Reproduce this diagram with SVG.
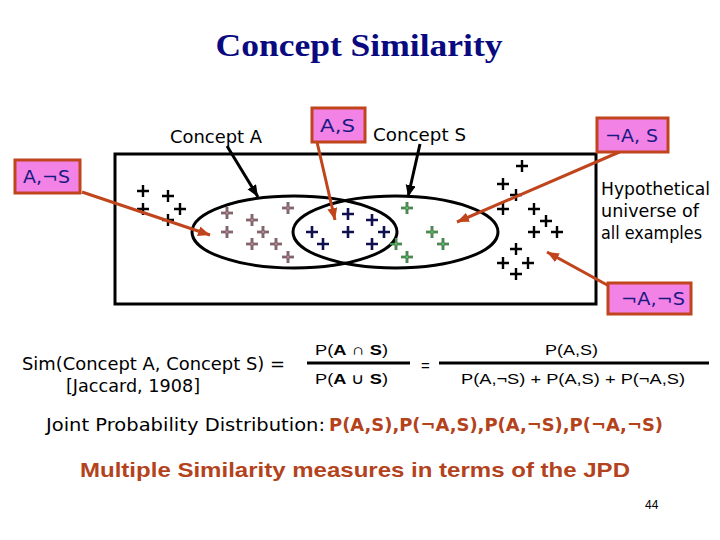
<svg xmlns="http://www.w3.org/2000/svg" width="720" height="540" viewBox="0 0 720 540">
<style>
.comic{font-family:"DejaVu Sans","Liberation Sans",sans-serif;font-size:17px;fill:#000}
.lbl{font-family:"DejaVu Sans","Liberation Sans",sans-serif;font-size:17px;fill:#1a1a84}
.box{fill:#f282e6;stroke:#c0441c;stroke-width:3}
.ba{stroke:#c0441c;stroke-width:3;fill:none;marker-end:url(#hb)}
.ka{stroke:#000;stroke-width:3;fill:none;marker-end:url(#hk)}
.f{font-family:"Liberation Sans",Arial,sans-serif;font-size:15px;fill:#000}
.ell{fill:none;stroke:#000;stroke-width:3}
.pk{stroke:#000;stroke-width:2.4;fill:none}
.pc{stroke-width:2.6;fill:none}
.pi{stroke-width:1;fill:none}
</style>
<defs>
<marker id="hb" markerUnits="userSpaceOnUse" markerWidth="14" markerHeight="12" refX="12" refY="5" orient="auto"><path d="M0,0 L12,5 L0,10 Z" fill="#c0441c"/></marker>
<marker id="hk" markerUnits="userSpaceOnUse" markerWidth="14" markerHeight="12" refX="12" refY="5" orient="auto"><path d="M0,0 L12,5 L0,10 Z" fill="#000"/></marker>
<path id="p" d="M-6,0H6M0,-6V6"/>
</defs>
<rect width="720" height="540" fill="#fff"/>
<text x="359" y="56" text-anchor="middle" font-family="'Liberation Serif','Times New Roman',serif" font-weight="bold" font-size="32" fill="#0a0a80" textLength="287" lengthAdjust="spacingAndGlyphs">Concept Similarity</text>

<g id="universe"><rect x="115" y="154" width="481" height="150" fill="none" stroke="#000" stroke-width="3"/></g>
<g id="ellipseA"><ellipse class="ell" cx="294.5" cy="232" rx="102.5" ry="36"/></g>
<g id="ellipseS"><ellipse class="ell" cx="395.5" cy="232" rx="102.5" ry="36"/></g>

<g id="points-outside" class="pk">
<use href="#p" x="143" y="191"/><use href="#p" x="168" y="196"/><use href="#p" x="180" y="209"/><use href="#p" x="143" y="209"/><use href="#p" x="168" y="220"/>
<use href="#p" x="522" y="166"/><use href="#p" x="503" y="184"/><use href="#p" x="516" y="195"/><use href="#p" x="503" y="209"/><use href="#p" x="534" y="209"/><use href="#p" x="546" y="221"/><use href="#p" x="534" y="232"/><use href="#p" x="557" y="232"/><use href="#p" x="516" y="249"/><use href="#p" x="503" y="263"/><use href="#p" x="528" y="263"/><use href="#p" x="516" y="274"/>
</g>
<g id="points-A">
<g class="pc" stroke="#2e161a"><use href="#p" x="227" y="213"/><use href="#p" x="252" y="220"/><use href="#p" x="263" y="232"/><use href="#p" x="227" y="232"/><use href="#p" x="252" y="244"/><use href="#p" x="276" y="244"/><use href="#p" x="288" y="208"/><use href="#p" x="288" y="257"/></g>
<g class="pi" stroke="#e0b0c0"><use href="#p" x="227" y="213"/><use href="#p" x="252" y="220"/><use href="#p" x="263" y="232"/><use href="#p" x="227" y="232"/><use href="#p" x="252" y="244"/><use href="#p" x="276" y="244"/><use href="#p" x="288" y="208"/><use href="#p" x="288" y="257"/></g>
</g>
<g id="points-AS" class="pc" stroke="#101050">
<use href="#p" x="348" y="214"/><use href="#p" x="372" y="220"/><use href="#p" x="312" y="232"/><use href="#p" x="348" y="232"/><use href="#p" x="384" y="232"/><use href="#p" x="323" y="244"/><use href="#p" x="372" y="244"/>
</g>
<g id="points-S">
<g class="pc" stroke="#0a300f"><use href="#p" x="407" y="208"/><use href="#p" x="432" y="232"/><use href="#p" x="443" y="244"/><use href="#p" x="396" y="244"/><use href="#p" x="407" y="257"/></g>
<g class="pi" stroke="#80e88c"><use href="#p" x="407" y="208"/><use href="#p" x="432" y="232"/><use href="#p" x="443" y="244"/><use href="#p" x="396" y="244"/><use href="#p" x="407" y="257"/></g>
</g>

<g id="connectors">
<line class="ba" x1="82" y1="192" x2="210" y2="235"/>
<line class="ba" x1="317" y1="142" x2="335" y2="220"/>
<line class="ba" x1="624" y1="150" x2="457" y2="222"/>
<line class="ba" x1="609" y1="286" x2="547" y2="252"/>
<line class="ka" x1="227" y1="146" x2="258" y2="197"/>
<line class="ka" x1="420" y1="144" x2="408" y2="197"/>
</g>

<g id="label-conceptA"><text class="comic" x="170" y="143" textLength="92" lengthAdjust="spacingAndGlyphs">Concept A</text></g>
<g id="label-conceptS"><text class="comic" x="373" y="141" textLength="93" lengthAdjust="spacingAndGlyphs">Concept S</text></g>
<g id="box-AS"><rect class="box" x="312" y="108" width="53" height="34"/><text class="lbl" x="320" y="132" textLength="35" lengthAdjust="spacingAndGlyphs">A,S</text></g>
<g id="box-nAS"><rect class="box" x="597" y="118" width="71" height="34"/><text class="lbl" x="605" y="142" textLength="53" lengthAdjust="spacingAndGlyphs">¬A, S</text></g>
<g id="box-AnS"><rect class="box" x="15" y="160" width="65" height="33"/><text class="lbl" x="23" y="183" textLength="47" lengthAdjust="spacingAndGlyphs">A,¬S</text></g>
<g id="box-nAnS"><rect class="box" x="608" y="283" width="83" height="31"/><text class="lbl" x="621" y="305" textLength="64" lengthAdjust="spacingAndGlyphs">¬A,¬S</text></g>
<g id="label-universe">
<text class="comic" x="601" y="195" textLength="109" lengthAdjust="spacingAndGlyphs">Hypothetical</text>
<text class="comic" x="601" y="217" textLength="98" lengthAdjust="spacingAndGlyphs">universe of</text>
<text class="comic" x="601" y="239" textLength="101" lengthAdjust="spacingAndGlyphs">all examples</text>
</g>

<g id="formula">
<text class="comic" x="22" y="370" textLength="263" lengthAdjust="spacingAndGlyphs">Sim(Concept A, Concept S) =</text>
<text class="comic" x="66" y="392" textLength="134" lengthAdjust="spacingAndGlyphs">[Jaccard, 1908]</text>
<text class="f" x="315" y="355" textLength="73" lengthAdjust="spacingAndGlyphs">P(<tspan font-weight="bold">A</tspan> ∩ <tspan font-weight="bold">S</tspan>)</text>
<line x1="307" y1="363" x2="410" y2="363" stroke="#000" stroke-width="3"/>
<text class="f" x="315" y="384" textLength="73" lengthAdjust="spacingAndGlyphs">P(<tspan font-weight="bold">A</tspan> ∪ <tspan font-weight="bold">S</tspan>)</text>
<text class="f" x="421" y="371">=</text>
<line x1="439" y1="363" x2="709" y2="363" stroke="#000" stroke-width="3"/>
<text class="f" x="545" y="355" textLength="53" lengthAdjust="spacingAndGlyphs">P(A,S)</text>
<text class="f" x="461" y="384" textLength="224" lengthAdjust="spacingAndGlyphs">P(A,¬S) + P(A,S) + P(¬A,S)</text>
</g>

<text class="comic" x="46" y="431" font-size="18" textLength="279" lengthAdjust="spacingAndGlyphs">Joint Probability Distribution:</text>
<text x="329" y="431" font-family="'DejaVu Sans','Liberation Sans',sans-serif" font-size="18" font-weight="bold" fill="#b4421a" textLength="334" lengthAdjust="spacingAndGlyphs">P(A,S),P(¬A,S),P(A,¬S),P(¬A,¬S)</text>
<text x="80" y="477" font-family="'Liberation Sans',Arial,sans-serif" font-size="21" font-weight="bold" fill="#b3431c" textLength="550" lengthAdjust="spacingAndGlyphs">Multiple Similarity measures in terms of the JPD</text>
<text x="645" y="509" font-family="'Liberation Sans',Arial,sans-serif" font-size="12" fill="#000">44</text>
</svg>
